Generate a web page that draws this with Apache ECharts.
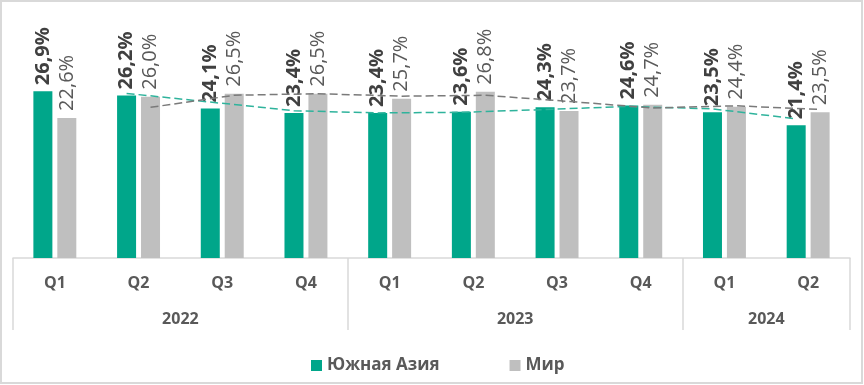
<!DOCTYPE html>
<html>
<head>
<meta charset="utf-8">
<script src="https://cdn.jsdelivr.net/npm/echarts@6/dist/echarts.min.js"></script>
<style>
html,body{margin:0;padding:0;background:#fff;}
#wrap{position:relative;width:864px;height:385px;}
#chart{width:864px;height:385px;}
#frame{position:absolute;left:0;top:0;width:863px;height:384px;box-sizing:border-box;border:2px solid #d9d9d9;pointer-events:none;}
</style>
</head>
<body>
<div id="wrap"><div id="chart"></div><div id="frame"></div></div>
<script>
const quarters = ['Q1','Q2','Q3','Q4','Q1','Q2','Q3','Q4','Q1','Q2'];
const years = ['2022','2023','2024'];
const yearSpans = [4, 4, 2];
const southAsia = [26.9, 26.2, 24.1, 23.4, 23.4, 23.6, 24.3, 24.6, 23.5, 21.4];
const world = [22.6, 26.0, 26.5, 26.5, 25.7, 26.8, 23.7, 24.7, 24.4, 23.5];
const seriesNames = ['Южная Азия', 'Мир'];

const GREEN = '#00A68A', GREY = '#BFBFBF';
const FONT = '"Open Sans", sans-serif';

function movingAvg(arr, off) {
  const out = [];
  for (let i = 1; i < arr.length; i++) out.push([i + off, (arr[i - 1] + arr[i]) / 2]);
  return out;
}
const yearCenters = [];
let acc = 0;
yearSpans.forEach(s => { yearCenters.push(acc + (s - 1) / 2); acc += s; });
const boundaries = [];
acc = 0;
yearSpans.forEach(s => { boundaries.push(acc); acc += s; });

const fmt = v => v.toFixed(1).replace('.', ',') + '%';

const chart = echarts.init(document.getElementById('chart'));
chart.setOption({
  animation: false,
  textStyle: { fontFamily: FONT },
  grid: { left: 13, right: 14, top: 10, bottom: 127 },
  legend: {
    data: seriesNames,
    left: 306, top: 352,
    icon: 'rect', itemWidth: 11, itemHeight: 11, itemGap: 70,
    textStyle: { fontFamily: FONT, fontSize: 17, fontWeight: 'bold', color: '#595959' }
  },
  xAxis: [{
    type: 'category', data: quarters,
    axisLine: { lineStyle: { color: '#d9d9d9', width: 1.5 } },
    axisTick: { show: true, length: 72, lineStyle: { color: '#d9d9d9', width: 1.5 },
      interval: (i) => boundaries.indexOf(i) >= 0 },
    axisLabel: { interval: 0, margin: 17, fontFamily: FONT, fontSize: 16, fontWeight: 'bold', color: '#595959' }
  }, {
    type: 'value', min: -0.5, max: 9.5, position: 'bottom',
    axisLine: { show: false }, axisTick: { show: false }, splitLine: { show: false },
    axisLabel: { customValues: yearCenters, margin: 53, fontFamily: FONT, fontSize: 16, fontWeight: 'bold', color: '#595959',
      formatter: (v) => { const k = yearCenters.indexOf(v); return k >= 0 ? years[k] : ''; } }
  }],
  yAxis: { type: 'value', min: 0, max: 40, show: false, splitLine: { show: false } },
  series: [{
    name: seriesNames[0], type: 'bar', data: southAsia, barWidth: 19, barGap: '26%',
    itemStyle: { color: GREEN },
    label: { show: true, position: 'top', rotate: 90, align: 'left', verticalAlign: 'middle', distance: 6,
      fontFamily: FONT, fontSize: 20, fontWeight: 'bold', color: '#404040', formatter: p => fmt(p.value) }
  }, {
    name: seriesNames[1], type: 'bar', data: world, barWidth: 19,
    itemStyle: { color: GREY },
    label: { show: true, position: 'top', rotate: 90, align: 'left', verticalAlign: 'middle', distance: 7,
      fontFamily: FONT, fontSize: 20, color: '#595959', formatter: p => fmt(p.value) }
  }, {
    name: 'trend1', type: 'line', xAxisIndex: 1, data: movingAvg(southAsia, -0.143),
    symbol: 'none', lineStyle: { color: '#2fb39c', width: 1.5, type: [8, 4] }, z: 5, silent: true
  }, {
    name: 'trend2', type: 'line', xAxisIndex: 1, data: movingAvg(world, 0.143),
    symbol: 'none', lineStyle: { color: '#7a7a7a', width: 1.5, type: [8, 4] }, z: 5, silent: true
  }]
});
</script>
</body>
</html>
